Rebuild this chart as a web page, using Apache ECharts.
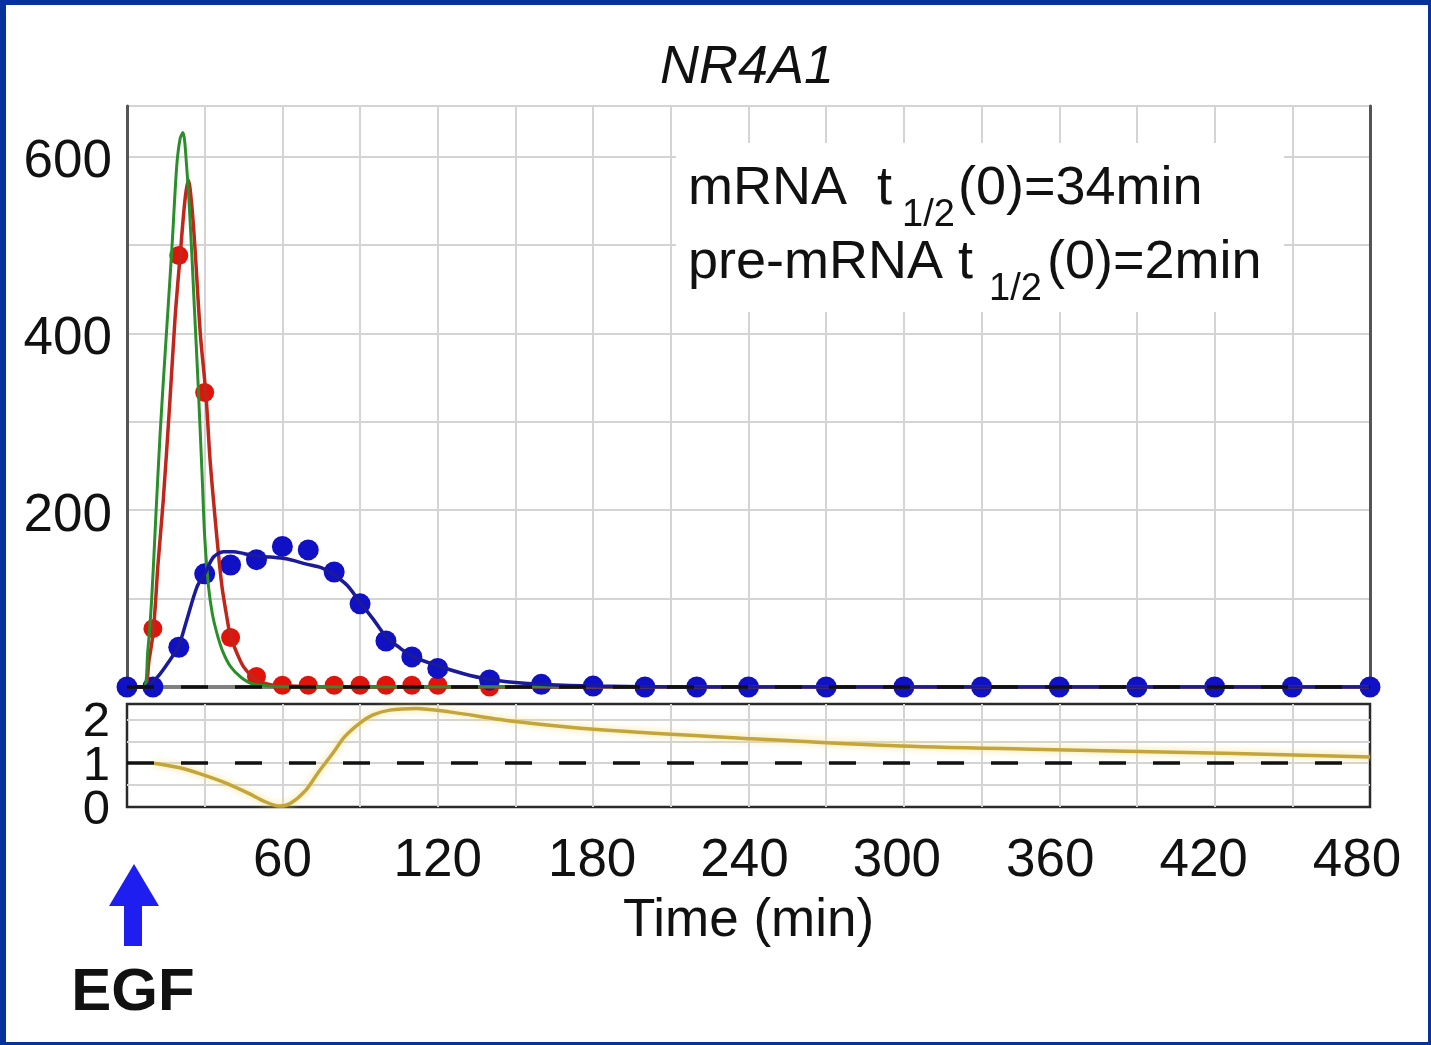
<!DOCTYPE html>
<html><head><meta charset="utf-8">
<script src="https://cdn.jsdelivr.net/npm/echarts@6/dist/echarts.min.js"></script>
<style>
html,body{margin:0;padding:0;background:#06329c;width:1431px;height:1045px;overflow:hidden;}
#bg{position:absolute;left:6px;top:5px;right:3px;bottom:3px;background:#fff;}
#chart{position:absolute;left:0;top:0;width:1431px;height:1045px;}
</style></head><body><div id="bg"></div><div id="chart"></div>
<script>
// ---------- DATA ----------
const titleText = 'NR4A1';
const xName = 'Time (min)';
const xTickLabels = [60, 120, 180, 240, 300, 360, 420, 480];
const yTopTickLabels = [200, 400, 600];
const yLowTickLabels = [0, 1, 2];

// measured points (min)
const matureTimes = [0,10,20,30,40,50,60,70,80,90,100,110,120,140,160,180,200,220,240,270,300,330,360,390,420,450,480];
const matureDots  = [0,0,45,128,138,144,159,155,130,94,52,34,21,8,3,1,0,0,0,0,0,0,0,0,0,0,0];
const preTimes = [0,10,20,30,40,50,60,70,80,90,100,110,120,140];
const preDots  = [0,66,488,333,56,12,2,2,2,2,2,2,2,0];

// model curves
const greenT = [0,6.3,8,9.5,11,12.8,15,17.3,19.2,20.5,21.6,23,24.5,26,27.5,29,30,31.5,33,34.7,37,40,44,48,55,60,90,480];
const greenV = [0,0,40,98,185,287,390,494,589,620,627,590,520,430,340,240,170,113,82,61,40,23,11,4,1,0,0,0];
const redT = [0,6.6,8.5,10.2,12,14,16.6,18.6,20.5,22.4,23.7,25,26.3,28.3,30.5,32,33.4,35,36.7,38.5,40,42.5,45,50,55,60,80,480];
const redV = [0,0,30,64,140,211,325,419,487,551,573,545,494,400,330,260,211,160,113,80,57,38,23,8,3,1.5,0,0];
const blueT = [0,6.7,9,12,16,19.9,23,27,30.2,33.4,37.3,41,45,50,55.3,61.5,69.3,75,79.3,85,89.7,95,100,105,110,120,130,139,150,160,180,220,480];
const blueV = [0,0,4,12,28,46,75,113,129,147,153,153,151,148,147,145,139,135,128,115,97,77,57,45,35,24,15,9,5,3,1,0,0];
const ratioT = [10.5,20,28,38,47,53,58.8,63,69,74,79.4,84,89.8,95,101.4,111.7,124.5,150,183,237,299,363,428,480];
const ratioV = [1.0,0.9,0.76,0.55,0.31,0.13,0.02,0.08,0.38,0.8,1.22,1.6,1.91,2.1,2.21,2.25,2.17,1.95,1.76,1.57,1.39,1.30,1.22,1.14];
const topRef = 0;
const lowRef = 1;

const pair = (t, v) => t.map((x, i) => [x, v[i]]);
const FONT = '"Liberation Sans", Arial, sans-serif';

// cosmetic: the reference's tick labels drift slightly left of their ticks
const labelShiftPx = {60: 0, 120: 0, 180: 1, 240: 4, 300: 7, 360: 9, 420: 11, 480: 13};
const xRich = {};
xTickLabels.forEach(v => {
  xRich['l' + v] = {fontSize: 53, color: '#111', fontFamily: FONT,
    padding: [6, 2 * (labelShiftPx[v] || 0), 0, 0]};
});
const yTopRich = {t: {fontSize: 53, color: '#111', fontFamily: FONT, padding: [12, 0, 0, 0]}};
const yLowRich = {t: {fontSize: 49, color: '#111', fontFamily: FONT, padding: [6, 0, 0, 0]}};

const chart = echarts.init(document.getElementById('chart'), null, {renderer: 'canvas'});
const splitStyle = {show: true, showMinLine: false, showMaxLine: false, lineStyle: {color: '#d4d4d4', width: 2}};
const dashStyle = {color: '#111', width: 3.5, type: [27, 27]};

const option = {
  animation: false,
  backgroundColor: 'transparent',
  grid: [
    {left: 127, top: 106, width: 1243, height: 581},
    {left: 127, top: 704, width: 1243, height: 103, show: true, borderColor: '#2a2a2a', borderWidth: 2.5}
  ],
  xAxis: [
    {gridIndex: 0, type: 'value', min: 0, max: 480, interval: 30, position: 'top',
     axisLine: {show: true, lineStyle: {color: '#808080', width: 4}}, axisTick: {show: false},
     axisLabel: {show: false}, splitLine: splitStyle},
    {gridIndex: 1, type: 'value', min: 0, max: 480, interval: 30,
     axisLine: {show: false}, axisTick: {show: false},
     axisLabel: {margin: 22, fontSize: 53, color: '#111', fontFamily: FONT,
       formatter: v => xTickLabels.includes(v) ? '{l' + v + '|' + v + '}' : '', rich: xRich},
     splitLine: splitStyle,
     name: xName, nameLocation: 'middle', nameGap: 88,
     nameTextStyle: {fontSize: 53, color: '#111', fontFamily: FONT}}
  ],
  yAxis: [
    {gridIndex: 0, type: 'value', min: 0, max: 657, interval: 100,
     axisLine: {show: true, lineStyle: {color: '#555', width: 3}}, axisTick: {show: false},
     axisLabel: {margin: 15, fontSize: 53, color: '#111', fontFamily: FONT, rich: yTopRich,
       formatter: v => yTopTickLabels.includes(v) ? '{t|' + v + '}' : ''},
     splitLine: {show: true, showMinLine: false, lineStyle: {color: '#d4d4d4', width: 2}}},
    {gridIndex: 0, type: 'value', min: 0, max: 657, position: 'right',
     axisLine: {show: true, lineStyle: {color: '#555', width: 3}}, axisTick: {show: false},
     axisLabel: {show: false}, splitLine: {show: false}},
    {gridIndex: 1, type: 'value', min: 0, max: 2.35, interval: 0.5,
     axisLine: {show: false}, axisTick: {show: false},
     axisLabel: {margin: 17, fontSize: 49, color: '#111', fontFamily: FONT, rich: yLowRich,
       formatter: v => yLowTickLabels.includes(v) ? '{t|' + v + '}' : ''},
     splitLine: splitStyle}
  ],
  series: [
    {type: 'line', name: 'pre-mRNA model', xAxisIndex: 0, yAxisIndex: 0, data: pair(redT, redV),
     showSymbol: false, smooth: 0.3, lineStyle: {color: '#c0261a', width: 3.5},
     markLine: {silent: true, symbol: 'none', label: {show: false}, lineStyle: dashStyle,
       data: [{yAxis: topRef}]}},
    {type: 'scatter', name: 'pre-mRNA data', xAxisIndex: 0, yAxisIndex: 0, data: pair(preTimes, preDots),
     symbolSize: 19, itemStyle: {color: '#e0140a', opacity: 1}},
    {type: 'line', name: 'green model', xAxisIndex: 0, yAxisIndex: 0, data: pair(greenT, greenV),
     showSymbol: false, smooth: 0.3, lineStyle: {color: '#2a8f2a', width: 3}},
    {type: 'line', name: 'mRNA model', xAxisIndex: 0, yAxisIndex: 0, data: pair(blueT, blueV),
     showSymbol: false, smooth: 0.3, lineStyle: {color: '#1a1a9a', width: 3.5}},
    {type: 'scatter', name: 'mRNA data', xAxisIndex: 0, yAxisIndex: 0, data: pair(matureTimes, matureDots),
     symbolSize: 21, itemStyle: {color: '#1010c4', opacity: 1}},
    {type: 'line', name: 'ratio', xAxisIndex: 1, yAxisIndex: 2, data: pair(ratioT, ratioV),
     showSymbol: false, smooth: 0.3,
     lineStyle: {color: '#c4a53a', width: 3.5, shadowColor: 'rgba(240,220,130,0.95)', shadowBlur: 7},
     markLine: {silent: true, symbol: 'none', label: {show: false}, lineStyle: dashStyle,
       data: [{yAxis: lowRef}]}}
  ],
  graphic: [
    {type: 'rect', z: 1, shape: {x: 676, y: 143, width: 608, height: 169}, style: {fill: '#fff'}},
    {type: 'text', z: 10, x: 747, y: 68, style: {text: titleText, fontSize: 54, fontStyle: 'italic',
      fontFamily: FONT, fill: '#111', align: 'center', verticalAlign: 'middle'}},
    {type: 'text', z: 10, x: 688, y: 189, style: {text: 'mRNA  t', fontSize: 54, fontFamily: FONT, fill: '#111', verticalAlign: 'middle'}},
    {type: 'text', z: 10, x: 902, y: 216, style: {text: '1/2', fontSize: 38, fontFamily: FONT, fill: '#111', verticalAlign: 'middle'}},
    {type: 'text', z: 10, x: 958, y: 189, style: {text: '(0)=34min', fontSize: 54, fontFamily: FONT, fill: '#111', verticalAlign: 'middle'}},
    {type: 'text', z: 10, x: 688, y: 263, style: {text: 'pre-mRNA t', fontSize: 54, fontFamily: FONT, fill: '#111', verticalAlign: 'middle'}},
    {type: 'text', z: 10, x: 989, y: 290, style: {text: '1/2', fontSize: 38, fontFamily: FONT, fill: '#111', verticalAlign: 'middle'}},
    {type: 'text', z: 10, x: 1047, y: 263, style: {text: '(0)=2min', fontSize: 54, fontFamily: FONT, fill: '#111', verticalAlign: 'middle'}},
    {type: 'polygon', z: 10, shape: {points: [[109, 906], [134, 864], [159, 906], [142, 906], [142, 946], [124, 946], [124, 906]]},
     style: {fill: '#1e1ef0'}},
    {type: 'text', z: 10, x: 133, y: 993, style: {text: 'EGF', fontSize: 60, fontWeight: 'bold', fontFamily: FONT,
      fill: '#111', align: 'center', verticalAlign: 'middle'}}
  ]
};
chart.setOption(option);
</script></body></html>
